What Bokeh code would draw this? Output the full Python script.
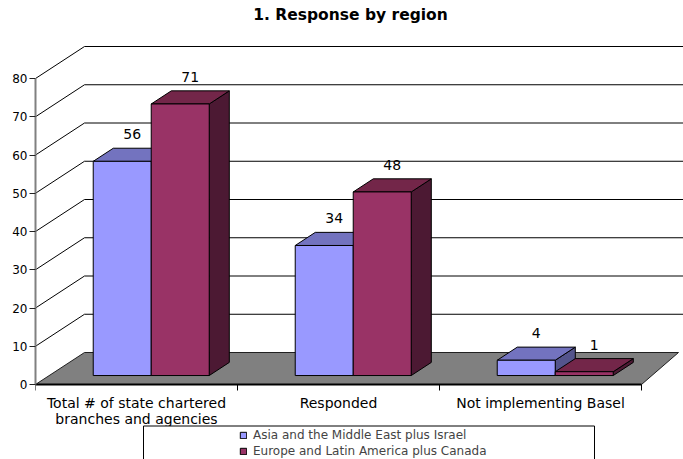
from bokeh.plotting import figure
from bokeh.models import Range1d, FixedTicker, Legend, LegendItem
from bokeh.core.properties import value
from bokeh.embed import file_html
from bokeh.resources import INLINE

# ---- data ----
title_text = "1. Response by region"
categories = ["Total # of state chartered\nbranches and agencies", "Responded", "Not implementing Basel"]
series_names = ["Asia and the Middle East plus Israel", "Europe and Latin America plus Canada"]
asia = [56, 34, 4]
europe = [71, 48, 1]
y_ticks = [0, 10, 20, 30, 40, 50, 60, 70, 80]

# ---- styling ----
FONT = "DejaVu Sans"
face_colors = [
    ("#9999FF", "#7373BF", "#54548C"),   # front, top, side
    ("#993366", "#732649", "#4C1933"),
]

# ---- layout (pixels) ----
W, H = 683, 459
LEFT = 35            # frame left edge / value axis position
CAT_PX = 202         # width of one category on the front plane
ZERO_PX = 384        # vertical position of value 0 on the front plane
UNIT_PX = 3.825      # pixels per value unit
DEPTH_PX = (49, 32)  # receding offset of the back wall (right, up)

DX = DEPTH_PX[0] / CAT_PX
DY = DEPTH_PX[1] / UNIT_PX
FLOOR_RIGHT_DX = 37 / CAT_PX
BAR_FRONT = 0.28     # depth fraction where bar fronts sit
BAR_DEPTH = 0.41     # depth fraction occupied by bars
GAP = 44 / CAT_PX
BAR_W = 58 / CAT_PX


def px_x(px):
    return (px - LEFT) / CAT_PX


def px_y(py):
    return (ZERO_PX - py) / UNIT_PX


x_end = px_x(W)
n_cat = len(categories)

p = figure(width=W, height=H, output_backend="svg", toolbar_location=None,
           x_range=Range1d(0, x_end), y_range=Range1d(px_y(H), px_y(0)),
           x_axis_location=None, min_border_left=LEFT, min_border_right=0,
           min_border_top=0, min_border_bottom=0)
p.outline_line_color = None
p.xgrid.visible = False
p.ygrid.visible = False
p.background_fill_color = "white"
p.border_fill_color = "white"

# value axis on the front plane
ax = p.yaxis[0]
ax.ticker = FixedTicker(ticks=y_ticks)
ax.bounds = (y_ticks[0], y_ticks[-1])
ax.axis_line_color = "#808080"
ax.axis_line_width = 2
ax.major_tick_line_color = "#222222"
ax.major_tick_out = 6
ax.major_tick_in = 0
ax.minor_tick_line_color = None
ax.major_label_standoff = 2
ax.major_label_text_font = FONT
ax.major_label_text_font_size = "12px"
ax.major_label_text_color = "black"

# back wall gridlines and side wall lines
grid_v = y_ticks[1:]
p.segment(x0=[DX] * len(grid_v), y0=[v + DY for v in grid_v],
          x1=[x_end] * len(grid_v), y1=[v + DY for v in grid_v],
          line_color="black", line_width=1)
p.segment(x0=[0] * len(grid_v), y0=grid_v,
          x1=[DX] * len(grid_v), y1=[v + DY for v in grid_v],
          line_color="black", line_width=1)

# floor
p.patch(x=[0, n_cat, n_cat + FLOOR_RIGHT_DX, DX], y=[0, 0, DY, DY],
        fill_color="#808080", line_color="#202020", line_width=1)
p.line(x=[0, n_cat], y=[0, 0], line_color="black", line_width=2)

# category tick marks
p.segment(x0=list(range(n_cat + 1)), y0=[0] * (n_cat + 1),
          x1=list(range(n_cat + 1)), y1=[px_y(ZERO_PX + 6)] * (n_cat + 1),
          line_color="black", line_width=1)

# 3-D bars
bdx, bdy = BAR_DEPTH * DX, BAR_DEPTH * DY
front_renderers = []
label_x, label_y, label_t = [], [], []
for j, vals in enumerate([asia, europe]):
    front, top, side = face_colors[j]
    lefts, rights, bottoms, tops = [], [], [], []
    top_xs, top_ys, side_xs, side_ys = [], [], [], []
    for i, v in enumerate(vals):
        L = i + GAP + BAR_FRONT * DX + j * BAR_W
        R = L + BAR_W
        B = BAR_FRONT * DY
        T = B + v
        lefts.append(L); rights.append(R); bottoms.append(B); tops.append(T)
        top_xs.append([L, R, R + bdx, L + bdx])
        top_ys.append([T, T, T + bdy, T + bdy])
        side_xs.append([R, R + bdx, R + bdx, R])
        side_ys.append([B, B + bdy, T + bdy, T])
        label_x.append((L + R) / 2 + bdx / 2)
        label_y.append(T + 27 / UNIT_PX)
        label_t.append(str(v))
    p.patches(xs=side_xs, ys=side_ys, fill_color=side, line_color="black", line_width=1)
    p.patches(xs=top_xs, ys=top_ys, fill_color=top, line_color="black", line_width=1)
    r = p.quad(left=lefts, right=rights, bottom=bottoms, top=tops,
               fill_color=front, line_color="black", line_width=1)
    front_renderers.append(r)

# value labels
p.text(x=label_x, y=label_y, text=label_t, text_align="center",
       text_baseline="alphabetic", text_font=value(FONT),
       text_font_size="14px", text_color="black")

# category labels
cx, cy, ct = [], [], []
for i, lab in enumerate(categories):
    for k, line in enumerate(lab.split("\n")):
        cx.append(i + 0.5)
        cy.append(px_y(402.5 + 16 * k))
        ct.append(line)
p.text(x=cx, y=cy, text=ct, text_align="center", text_baseline="alphabetic",
       text_font=value(FONT), text_font_size="14px", text_color="black")

# title
p.text(x=[px_x(350)], y=[px_y(14)], text=[title_text], text_align="center",
       text_baseline="alphabetic", text_font=value(FONT), text_font_size="15.5px",
       text_font_style="bold", text_color="black")

# legend frame
p.quad(left=[px_x(143)], right=[px_x(594)], top=[px_y(425.5)], bottom=[px_y(H + 10)],
       fill_color="white", line_color="black", line_width=1)

legend = Legend(items=[LegendItem(label=series_names[j], renderers=[front_renderers[j]])
                       for j in range(2)],
                location=(239 - LEFT, 1.5), orientation="vertical",
                glyph_width=8, glyph_height=8, label_standoff=6,
                label_text_font=FONT, label_text_font_size="12px",
                label_height=12, spacing=2, padding=0, margin=0,
                border_line_color=None, background_fill_alpha=0)
p.add_layout(legend)

open("out.html", "w").write(file_html(p, INLINE))
